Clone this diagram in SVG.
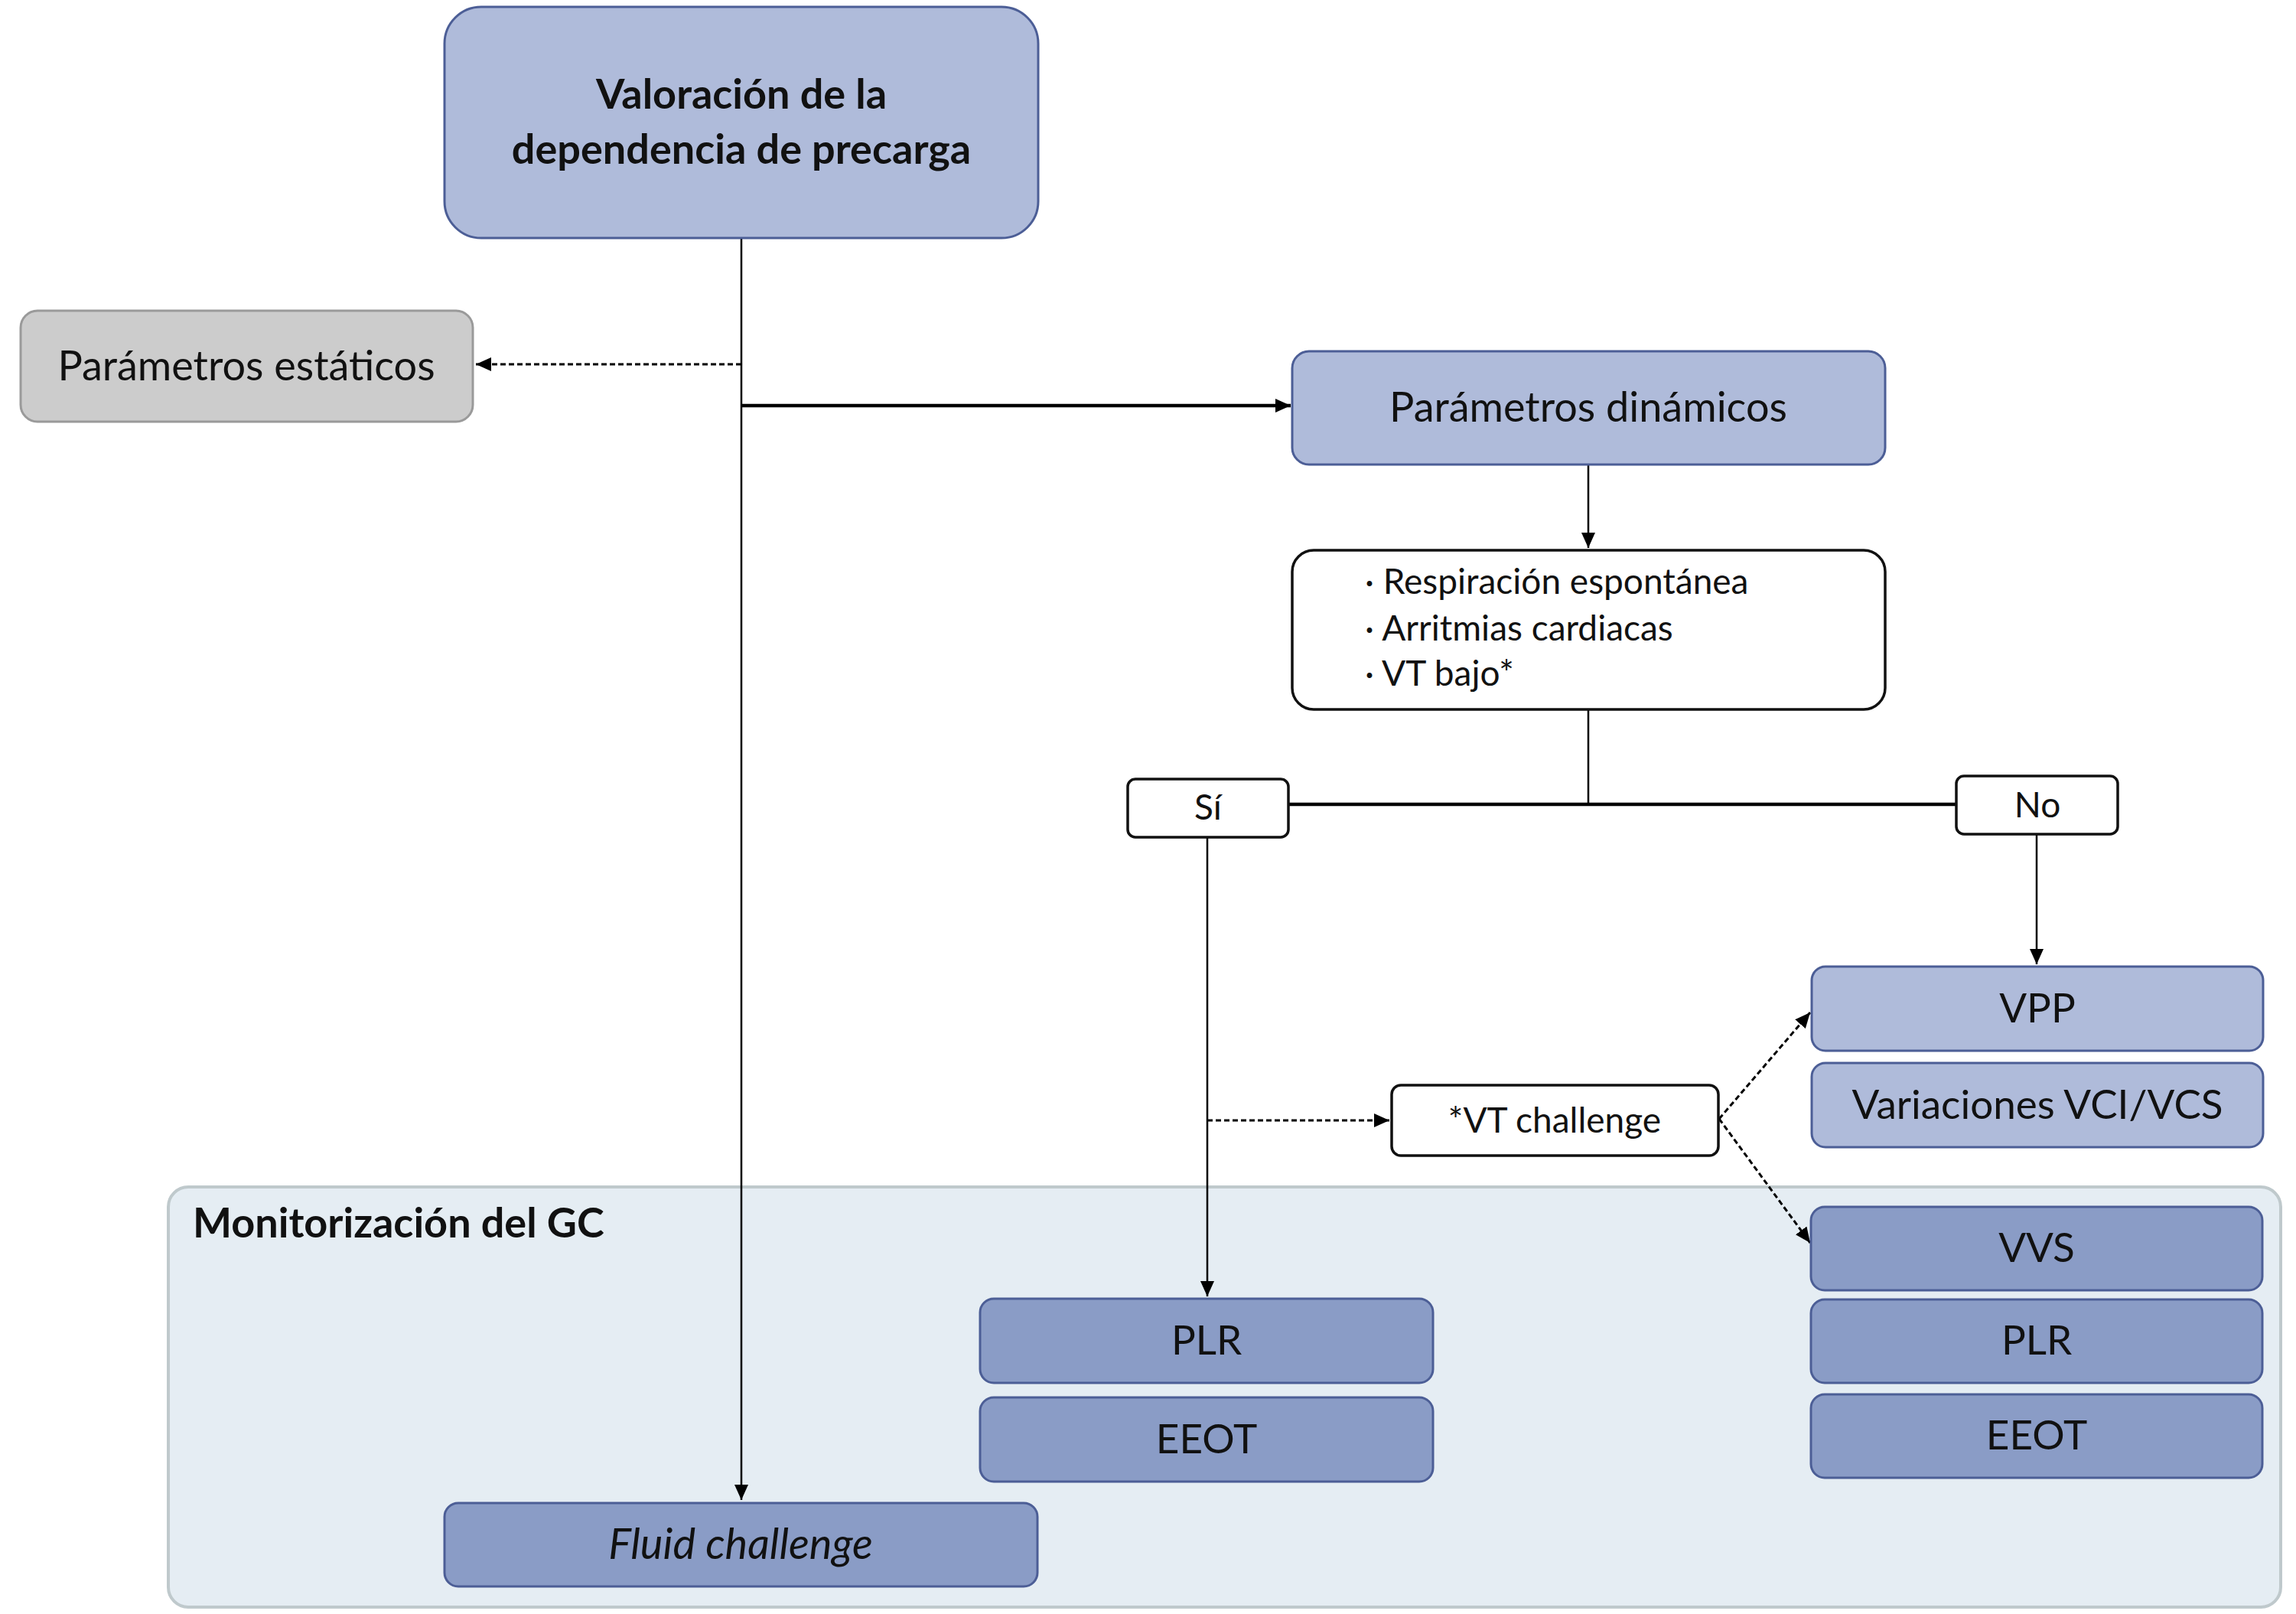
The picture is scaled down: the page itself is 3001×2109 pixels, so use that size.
<svg xmlns="http://www.w3.org/2000/svg" width="3001" height="2109" viewBox="0 0 3001 2109">
<style>
text{font-family:Lato,"Open Sans","Liberation Sans",sans-serif;fill:#111;}
.t{font-size:53px;text-anchor:middle;}
.b{font-weight:bold;}
.s{font-size:46px;}
.light{fill:#AFBBDA;stroke:#4C5E96;stroke-width:3;}
.dark{fill:#8A9CC6;stroke:#4C5E96;stroke-width:3;}
.white{fill:#fff;stroke:#111;stroke-width:3.5;}
.ln{fill:none;stroke:#000;stroke-width:2.5;}
.thick{fill:none;stroke:#000;stroke-width:4.5;}
.dash{fill:none;stroke:#000;stroke-width:3;stroke-dasharray:7 4;}
</style>
<defs>
<marker id="ah" markerUnits="userSpaceOnUse" markerWidth="22" markerHeight="18" refX="20" refY="9" orient="auto">
<path d="M0,0 L20,9 L0,18 Z" fill="#000"/>
</marker>
</defs>
<rect width="3001" height="2109" fill="#fff"/>
<g id="container">
<rect x="220" y="1551" width="2761" height="549" rx="26" fill="#E5EDF3" stroke="#BFC9CC" stroke-width="4"/>
<text x="252" y="1617" class="b" style="font-size:54px">Monitorización del GC</text>
</g>
<g id="connectors">
<path class="ln" d="M969,311 V1960" marker-end="url(#ah)"/>
<path class="dash" d="M969,476 H622" marker-end="url(#ah)"/>
<path class="thick" d="M969,530 H1687" marker-end="url(#ah)"/>
<path class="ln" d="M2076,607 V716" marker-end="url(#ah)"/>
<path class="ln" d="M2076,927 V1051"/>
<path class="thick" d="M1684,1051 H2557"/>
<path class="ln" d="M2662,1090 V1260" marker-end="url(#ah)"/>
<path class="ln" d="M1578,1095 V1694" marker-end="url(#ah)"/>
<path class="dash" d="M1578,1464 H1816" marker-end="url(#ah)"/>
<path class="dash" d="M2247,1462 L2366,1323" marker-end="url(#ah)"/>
<path class="dash" d="M2247,1462 L2366,1624" marker-end="url(#ah)"/>
</g>
<g id="n-valoracion">
<rect class="light" x="581" y="9" width="776" height="302" rx="48"/>
<text class="t b" x="969" y="142" style="font-size:54px">Valoración de la</text>
<text class="t b" x="969" y="214" style="font-size:54px">dependencia de precarga</text>
</g>
<g id="n-estaticos">
<rect x="27" y="406" width="591" height="145" rx="22" fill="#CCCCCC" stroke="#9A9A9A" stroke-width="3"/>
<text class="t" x="322" y="497" style="font-size:54px">Parámetros estáticos</text>
</g>
<g id="n-dinamicos">
<rect class="light" x="1689" y="459" width="775" height="148" rx="22"/>
<text class="t" x="2076" y="551" style="font-size:54px">Parámetros dinámicos</text>
</g>
<g id="n-condiciones">
<rect class="white" x="1689" y="719" width="775" height="208" rx="28"/>
<text class="s" x="1784" y="776">· Respiración espontánea</text>
<text class="s" x="1784" y="837">· Arritmias cardiacas</text>
<text class="s" x="1784" y="896">· VT bajo*</text>
</g>
<g id="n-si">
<rect class="white" x="1474" y="1018" width="210" height="76" rx="10"/>
<text class="t s" x="1579" y="1071">Sí</text>
</g>
<g id="n-no">
<rect class="white" x="2557" y="1014" width="211" height="76" rx="10"/>
<text class="t s" x="2663" y="1068">No</text>
</g>
<g id="n-vtchallenge">
<rect class="white" x="1819" y="1418" width="427" height="92" rx="12"/>
<text class="t s" x="2032" y="1480">*VT challenge</text>
</g>
<g id="n-vpp">
<rect class="light" x="2368" y="1263" width="590" height="110" rx="18"/>
<text class="t" x="2663" y="1336">VPP</text>
</g>
<g id="n-variaciones">
<rect class="light" x="2368" y="1389" width="590" height="110" rx="18"/>
<text class="t" x="2663" y="1462">Variaciones VCI/VCS</text>
</g>
<g id="n-vvs">
<rect class="dark" x="2367" y="1577" width="590" height="109" rx="18"/>
<text class="t" x="2662" y="1649">VVS</text>
</g>
<g id="n-plr-right">
<rect class="dark" x="2367" y="1698" width="590" height="109" rx="18"/>
<text class="t" x="2662" y="1770">PLR</text>
</g>
<g id="n-eeot-right">
<rect class="dark" x="2367" y="1822" width="590" height="109" rx="18"/>
<text class="t" x="2662" y="1894">EEOT</text>
</g>
<g id="n-plr-left">
<rect class="dark" x="1281" y="1697" width="592" height="110" rx="18"/>
<text class="t" x="1577" y="1770">PLR</text>
</g>
<g id="n-eeot-left">
<rect class="dark" x="1281" y="1826" width="592" height="110" rx="18"/>
<text class="t" x="1577" y="1899">EEOT</text>
</g>
<g id="n-fluid">
<rect class="dark" x="581" y="1964" width="775" height="109" rx="18"/>
<text class="t" x="968" y="2037" font-style="italic" style="font-size:56px">Fluid challenge</text>
</g>
</svg>
